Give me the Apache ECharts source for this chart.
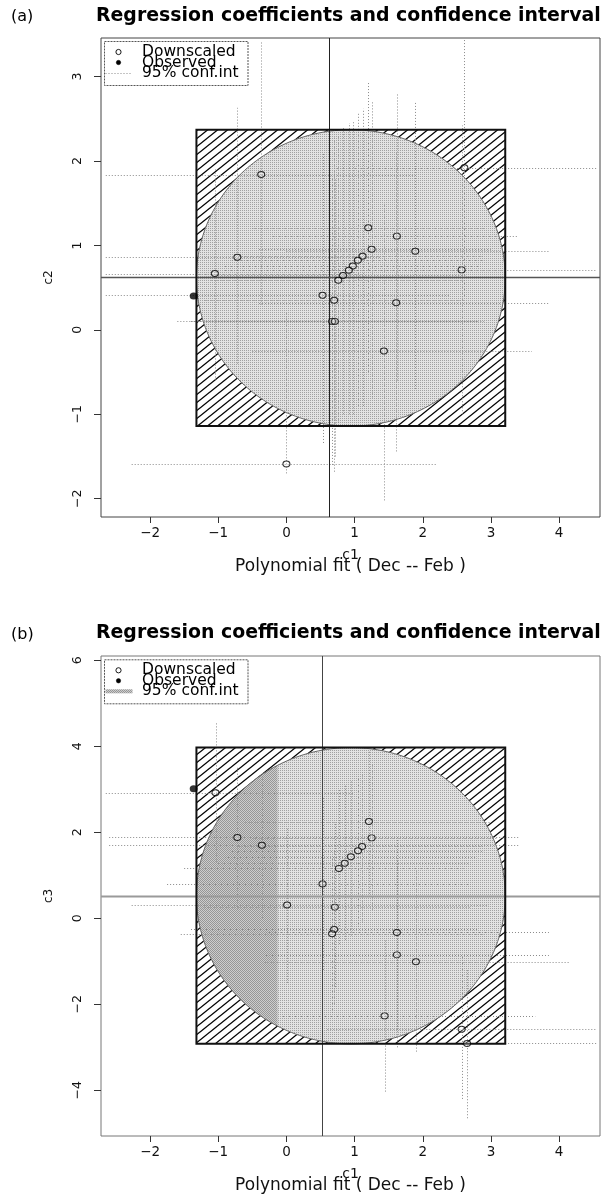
<!DOCTYPE html>
<html>
<head>
<meta charset="utf-8">
<script src="https://cdn.jsdelivr.net/npm/echarts@6/dist/echarts.min.js"></script>
<style>
  html, body { margin: 0; padding: 0; background: #fff; }
  #chart { width: 611px; height: 1199px; }
</style>
</head>
<body>
<div id="chart"></div>
<script>
// ---------------- data ----------------
const xTicks  = [-2, -1, 0, 1, 2, 3, 4];
const yTicksA = [-2, -1, 0, 1, 2, 3];
const yTicksB = [-4, -2, 0, 2, 4, 6];

// (a) c1 vs c2 : downscaled coefficients and their 95% intervals
const c1A   = [-0.37, 1.20, 1.62, -0.72, 1.25, 1.89, 2.57, -1.05, 1.117, 1.048, 0.974, 0.916, 0.83, 0.761, 2.61, 0.53, 0.70, 1.61, 0.67, 0.71, 1.43, 0.00];
const c2A   = [ 1.84, 1.21, 1.11,  0.86, 0.955, 0.93, 0.71, 0.667, 0.872, 0.825, 0.757, 0.706, 0.644, 0.588, 1.92, 0.41, 0.35, 0.32, 0.10, 0.10, -0.25, -1.59];
const c1LoA = [-2.65, -0.50, -0.20, -2.65, -0.40, 0.00, 0.60, -2.65, -0.70, -0.80, -0.90, -0.90, -1.00, -1.10, 0.70, -2.65, -1.20, -0.40, -1.60, -1.40, -0.50, -2.27];
const c1HiA = [ 1.90, 2.90, 3.40, 1.40, 3.00, 3.85, 4.55, 1.10, 2.90, 2.90, 2.85, 2.75, 2.65, 2.60, 4.55, 2.40, 2.60, 3.85, 2.90, 2.80, 3.60, 2.20];
const c2LoA = [ 0.30, -0.50, -0.60, -0.40, -0.80, -0.70, -1.00, -0.60, -0.90, -0.90, -1.00, -1.00, -1.00, -1.10, 0.40, -1.34, -1.68, -1.44, -1.60, -1.50, -2.02, -1.70];
const c2HiA = [ 3.42, 2.93, 2.80, 2.63, 2.70, 2.70, 2.42, 1.90, 2.62, 2.58, 2.48, 2.45, 2.39, 2.30, 3.45, 2.10, 2.30, 2.10, 1.80, 1.80, 1.50, 0.20];
const obsA  = [-1.36, 0.40];
const boxA_c1 = [-1.32, 3.21];
const boxA_c2 = [-1.14, 2.37];
const refA  = [0.62, 0.62];

// (b) c1 vs c3
const c1B   = [-1.04, -0.72, -0.36, 1.21, 1.25, 1.11, 1.05, 0.945, 0.855, 0.77, 0.53, 0.01, 0.71, 0.70, 0.67, 1.62, 1.62, 1.90, 1.44, 2.57, 2.65];
const c3B   = [ 2.92, 1.88, 1.70, 2.25, 1.87, 1.67, 1.57, 1.43, 1.28, 1.16, 0.80, 0.31, 0.26, -0.26, -0.36, -0.33, -0.85, -1.01, -2.27, -2.58, -2.91];
const c1LoB = [-2.65, -2.60, -2.60, -0.60, -0.50, -0.70, -0.80, -0.90, -1.00, -1.50, -1.75, -2.27, -1.20, -1.40, -1.55, -0.30, -0.30, -0.32, -0.05, 0.60, 0.70];
const c1HiB = [ 1.00, 3.40, 3.40, 3.00, 3.10, 2.90, 2.90, 2.80, 2.70, 2.60, 2.70, 2.97, 2.70, 2.80, 2.90, 3.85, 3.85, 4.15, 3.65, 4.55, 4.55];
const c3LoB = [ 1.30, 0.20, 0.00, 0.50, 0.20, -0.10, -0.20, -0.40, -0.50, -0.60, -1.20, -1.50, -1.60, -2.00, -2.20, -2.60, -3.00, -3.10, -4.03, -4.20, -4.65];
const c3HiB = [ 4.54, 3.50, 3.40, 3.90, 3.60, 3.40, 3.30, 3.20, 3.10, 3.00, 2.80, 2.10, 2.20, 1.60, 1.50, 1.90, 1.40, 1.10, -0.50, -0.90, -1.20];
const obsB  = [-1.36, 3.01];
const boxB_c1 = [-1.32, 3.21];
const boxB_c3 = [-2.92, 3.97];
const shadeB_c1 = -0.13;          // right edge of the denser band inside the ellipse
const refB  = [0.52, 0.525];

// ---------------- fill patterns ----------------
function hatchTile() {
  const c = document.createElement('canvas');
  c.width = 10; c.height = 8;
  const g = c.getContext('2d');
  g.strokeStyle = '#000'; g.lineWidth = 1.3;
  for (const dx of [-10, 0, 10]) {
    g.beginPath(); g.moveTo(dx - 1.25, 9); g.lineTo(dx + 11.25, -1); g.stroke();
  }
  return c;
}
function stippleTile(dark) {
  const c = document.createElement('canvas');
  c.width = 2; c.height = 2;
  const g = c.getContext('2d');
  g.fillStyle = dark ? '#cdcdcd' : '#e2e2e2';
  g.fillRect(0, 0, 2, 2);
  g.fillStyle = dark ? '#969696' : '#a0a0a0';
  g.fillRect(0, 0, 1, 1);
  if (dark) g.fillRect(1, 1, 1, 1);
  return c;
}
const hatch = { image: hatchTile(), repeat: 'repeat' };
const stipLight = { image: stippleTile(false), repeat: 'repeat' };
const stipDark = { image: stippleTile(true), repeat: 'repeat' };

const FONT = "'DejaVu Sans', sans-serif";
const minus = v => String(v).replace('-', '\u2212');
const px = v => Math.round(v) + 0.5;

// ---------------- render helpers ----------------
// hatched box with the inscribed ellipse of the confidence region
function ciRender(params, api) {
  const x0 = api.value(0), x1 = api.value(1), y0 = api.value(2), y1 = api.value(3);
  const cut = api.value(4);
  const tl = api.coord([x0, y1]), br = api.coord([x1, y0]);
  const cx = (x0 + x1) / 2, cy = (y0 + y1) / 2, rx = (x1 - x0) / 2, ry = (y1 - y0) / 2;
  const ell = [];
  for (let i = 0; i < 240; i++) {
    const t = i / 240 * 2 * Math.PI;
    ell.push(api.coord([cx + rx * Math.cos(t), cy + ry * Math.sin(t)]));
  }
  const children = [
    { type: 'rect', shape: { x: tl[0], y: tl[1], width: br[0] - tl[0], height: br[1] - tl[1] },
      style: { fill: hatch } },
    { type: 'polygon', shape: { points: ell }, style: { fill: stipLight, stroke: null } }
  ];
  if (!isNaN(cut)) {
    const t0 = Math.acos((cut - cx) / rx);
    const pts = [];
    for (let i = 0; i <= 160; i++) {
      const t = t0 + (2 * Math.PI - 2 * t0) * i / 160;
      pts.push(api.coord([cx + rx * Math.cos(t), cy + ry * Math.sin(t)]));
    }
    children.push({ type: 'polygon', shape: { points: pts }, style: { fill: stipDark, stroke: null } });
  }
  children.push({ type: 'polygon', shape: { points: ell }, style: { fill: null, stroke: '#666', lineWidth: 1 } });
  return { type: 'group', children };
}
function boxRender(params, api) {
  const tl = api.coord([api.value(0), api.value(3)]), br = api.coord([api.value(1), api.value(2)]);
  return { type: 'rect', shape: { x: tl[0], y: tl[1], width: br[0] - tl[0], height: br[1] - tl[1] },
           style: { fill: null, stroke: '#111', lineWidth: 2 } };
}
function errRender(params, api) {
  const x = api.value(0), y = api.value(1);
  const a = api.coord([api.value(2), y]), b = api.coord([api.value(3), y]);
  const c = api.coord([x, api.value(4)]), d = api.coord([x, api.value(5)]);
  const st = { stroke: '#8a8a8a', lineWidth: 1, lineDash: [1, 2], fill: null };
  return { type: 'group', children: [
    { type: 'line', shape: { x1: a[0], y1: px(a[1]), x2: b[0], y2: px(b[1]) }, style: st },
    { type: 'line', shape: { x1: px(c[0]), y1: c[1], x2: px(d[0]), y2: d[1] }, style: st }
  ] };
}
function refRender(vStyle, hStyle) {
  return function (params, api) {
    const cs = params.coordSys;
    const p = api.coord([api.value(0), api.value(1)]);
    return { type: 'group', children: [
      { type: 'line', shape: { x1: px(p[0]), y1: cs.y, x2: px(p[0]), y2: cs.y + cs.height }, style: vStyle },
      { type: 'line', shape: { x1: cs.x, y1: px(p[1]), x2: cs.x + cs.width, y2: px(p[1]) }, style: hStyle }
    ] };
  };
}

// ---------------- axes ----------------
function xAxisFor(i) {
  return {
    gridIndex: i, type: 'value', min: -2.72, max: 4.60, position: 'bottom',
    axisLine: { show: false, onZero: false }, splitLine: { show: false },
    axisTick: { show: true, inside: false, length: 6, customValues: xTicks, lineStyle: { color: '#333', width: 1 } },
    axisLabel: { customValues: xTicks, margin: 9.5, fontSize: 13.5, fontFamily: FONT, color: '#111', formatter: minus },
    name: '{c|c1}\n{p|Polynomial fit ( Dec -- Feb )}',
    nameLocation: 'middle', nameGap: 32.5, nameMoveOverlap: false,
    nameTextStyle: { color: '#111', fontFamily: FONT,
      rich: { c: { fontSize: 14, lineHeight: 11, fontFamily: FONT, color: '#111' },
              p: { fontSize: 17, lineHeight: 12, fontFamily: FONT, color: '#111' } } }
  };
}
function yAxisFor(i, min, max, ticks, name) {
  return {
    gridIndex: i, type: 'value', min: min, max: max, position: 'left',
    axisLine: { show: false, onZero: false }, splitLine: { show: false },
    axisTick: { show: true, inside: false, length: 7, customValues: ticks, lineStyle: { color: '#333', width: 1 } },
    axisLabel: { customValues: ticks, rotate: 90, margin: 17, fontSize: 12.5, fontFamily: FONT, color: '#111', formatter: minus },
    name: name, nameLocation: 'middle', nameGap: 46, nameRotate: 90, nameMoveOverlap: false,
    nameTextStyle: { fontSize: 12, fontFamily: FONT, color: '#111' }
  };
}

// ---------------- legend (R style box) ----------------
function legendBox(top, swatchBand) {
  const rows = [top + 11, top + 21.5, top + 32];
  const tx = { fontFamily: FONT, fontSize: 15.5, fill: '#000', verticalAlign: 'middle', align: 'left' };
  const children = [
    { type: 'rect', shape: { x: 104.5, y: top + 0.5, width: 143.5, height: 44 },
      style: { fill: '#fff', stroke: '#555', lineWidth: 1, lineDash: [2, 1] } },
    { type: 'circle', shape: { cx: 118.5, cy: rows[0], r: 2.6 }, style: { fill: '#fff', stroke: '#000', lineWidth: 0.9 } },
    { type: 'circle', shape: { cx: 118.5, cy: rows[1], r: 2.2 }, style: { fill: '#000', stroke: '#000', lineWidth: 0.5 } },
    { type: 'text', x: 142, y: rows[0], style: Object.assign({ text: 'Downscaled' }, tx) },
    { type: 'text', x: 142, y: rows[1], style: Object.assign({ text: 'Observed' }, tx) },
    { type: 'text', x: 142, y: rows[2], style: Object.assign({ text: '95% conf.int' }, tx) }
  ];
  if (swatchBand) {
    children.push({ type: 'rect', shape: { x: 105.5, y: rows[2] - 2, width: 27, height: 4 }, style: { fill: stipDark } });
  } else {
    children.push({ type: 'line', shape: { x1: 105.5, y1: px(rows[2]), x2: 132, y2: px(rows[2]) },
      style: { stroke: '#8a8a8a', lineWidth: 1, lineDash: [1, 2] } });
  }
  return { type: 'group', z: 100, children };
}

// ---------------- series ----------------
function panelSeries(i, c1, cy, lo1, hi1, lo2, hi2, obs, boxX, boxY, cut, ref, vStyle, hStyle) {
  const err = c1.map((v, k) => [v, cy[k], lo1[k], hi1[k], lo2[k], hi2[k]]);
  const pts = c1.map((v, k) => [v, cy[k]]);
  const box = [[boxX[0], boxX[1], boxY[0], boxY[1], cut]];
  return [
    { type: 'custom', xAxisIndex: i, yAxisIndex: i, z: 1, silent: true, clip: true,
      renderItem: ciRender, encode: { x: [0, 1], y: [2, 3] }, data: box },
    { type: 'custom', xAxisIndex: i, yAxisIndex: i, z: 2, silent: true, clip: true,
      renderItem: errRender, encode: { x: [0, 2, 3], y: [1, 4, 5] }, data: err },
    { type: 'custom', xAxisIndex: i, yAxisIndex: i, z: 3, silent: true, clip: true,
      renderItem: refRender(vStyle, hStyle), encode: { x: 0, y: 1 }, data: [ref] },
    { type: 'custom', xAxisIndex: i, yAxisIndex: i, z: 4, silent: true,
      renderItem: boxRender, encode: { x: [0, 1], y: [2, 3] }, data: box },
    { type: 'scatter', xAxisIndex: i, yAxisIndex: i, z: 5, silent: true,
      symbol: 'circle', symbolSize: [7, 6], data: pts,
      itemStyle: { color: 'rgba(255,255,255,0.3)', borderColor: '#000', borderWidth: 1 } },
    { type: 'scatter', xAxisIndex: i, yAxisIndex: i, z: 6, silent: true,
      symbol: 'circle', symbolSize: [8, 7], data: [obs],
      itemStyle: { color: '#000' } }
  ];
}

const chart = echarts.init(document.getElementById('chart'), null, { renderer: 'canvas', width: 611, height: 1199 });
chart.setOption({
  animation: false,
  backgroundColor: '#fff',
  title: [
    { text: '(a)', left: 11, top: 9, padding: 0, textStyle: { fontFamily: FONT, fontSize: 16, fontWeight: 'normal', color: '#000' } },
    { text: 'Regression coefficients and confidence interval', left: 96, top: 6.5, padding: 0,
      textStyle: { fontFamily: FONT, fontSize: 18.9, fontWeight: 'bold', color: '#000' } },
    { text: '(b)', left: 11, top: 627, padding: 0, textStyle: { fontFamily: FONT, fontSize: 16, fontWeight: 'normal', color: '#000' } },
    { text: 'Regression coefficients and confidence interval', left: 96, top: 624, padding: 0,
      textStyle: { fontFamily: FONT, fontSize: 18.9, fontWeight: 'bold', color: '#000' } }
  ],
  grid: [
    { left: 101, right: 11, top: 38, height: 479, show: true, borderColor: '#444', borderWidth: 1, backgroundColor: 'transparent', outerBoundsMode: 'none' },
    { left: 101, right: 11, top: 656, height: 480, show: true, borderColor: '#777', borderWidth: 1, backgroundColor: 'transparent', outerBoundsMode: 'none' }
  ],
  xAxis: [xAxisFor(0), xAxisFor(1)],
  yAxis: [yAxisFor(0, -2.217, 3.457, yTicksA, 'c2'), yAxisFor(1, -5.063, 6.10, yTicksB, 'c3')],
  graphic: [legendBox(41, false), legendBox(659.3, true)],
  series: [].concat(
    panelSeries(0, c1A, c2A, c1LoA, c1HiA, c2LoA, c2HiA, obsA, boxA_c1, boxA_c2, NaN, refA,
      { stroke: '#222', lineWidth: 1 }, { stroke: '#555', lineWidth: 1.5 }),
    panelSeries(1, c1B, c3B, c1LoB, c1HiB, c3LoB, c3HiB, obsB, boxB_c1, boxB_c3, shadeB_c1, refB,
      { stroke: '#444', lineWidth: 1 }, { stroke: '#9a9a9a', lineWidth: 2 })
  )
});
</script>
</body>
</html>
